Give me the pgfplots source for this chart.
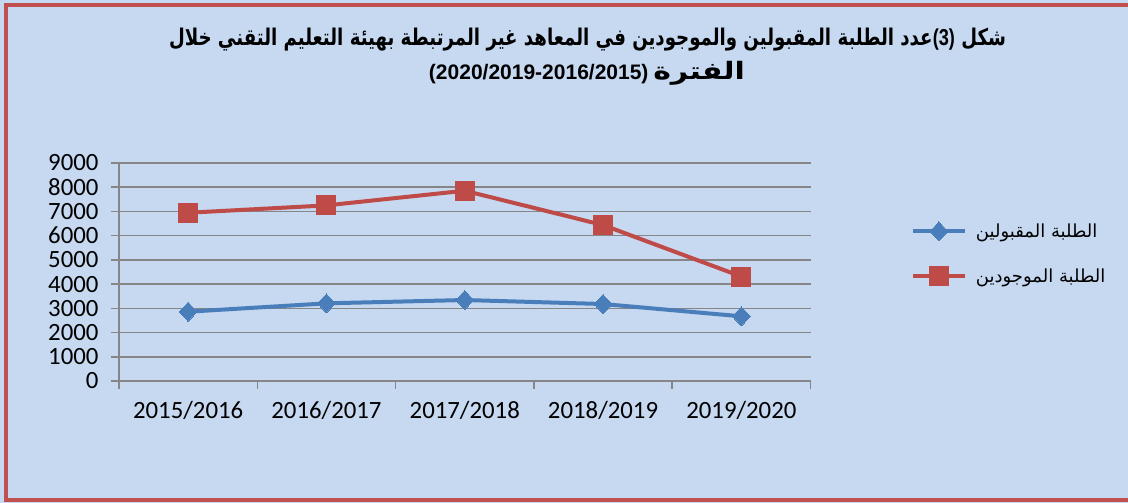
\documentclass[border=0pt]{standalone}
\usepackage{pgfplots}
\pgfplotsset{compat=1.18}
\usepackage{fontspec}
\usepackage{graphicx}
\setmainfont{Carlito}
\newfontfamily\arabicfont[Script=Arabic]{DejaVu Sans}
\newfontfamily\titlelat{Liberation Sans}
\TeXXeTstate=1
\definecolor{bg}{HTML}{C6D9F1}
\definecolor{bord}{HTML}{C0504D}
\definecolor{serA}{HTML}{4A7EBB}
\definecolor{serB}{HTML}{BE4B48}
\definecolor{gridc}{HTML}{868686}
\begin{document}
\begin{tikzpicture}[x=1pt,y=1pt]
\fill[bg] (0,0) rectangle (1128,503);
\useasboundingbox (0,0) rectangle (1128,503);
\draw[bord, line width=3.5pt] (1135,498) -- (6,498) -- (6,3) -- (1135,3);
\node[anchor=center] at (587.5,463) {\scalebox{0.79}[1]{\fontsize{23}{27}\selectfont\arabicfont\bfseries\beginR شكل \beginL{\titlelat\bfseries (3)}\endL{}عدد الطلبة المقبولين والموجودين في المعاهد غير المرتبطة بهيئة التعليم التقني خلال\endR}};
\node[anchor=center] at (587,430) {\fontsize{21}{25}\selectfont{\titlelat\bfseries (2020/2019-2016/2015)} \scalebox{1.25}[1]{\fontsize{24}{27}\selectfont\arabicfont\bfseries\beginR الفترة\endR}};
\begin{axis}[
  at={(119pt,122pt)}, anchor=south west,
  scale only axis, width=691.5pt, height=218pt,
  xmin=-0.5, xmax=4.5, ymin=0, ymax=9000,
  ytick={0,1000,...,9000},
  xtick={-0.5,0.5,1.5,2.5,3.5,4.5},
  x tick label as interval,
  xticklabels={2015/2016,2016/2017,2017/2018,2018/2019,2019/2020},
  axis x line*=bottom, axis y line*=left,
  axis line style={gridc, line width=1.5pt},
  ymajorgrids, major grid style={gridc, line width=1.5pt},
  tick style={gridc, line width=1.5pt},
  tick align=outside, major tick length=8pt,
  ticklabel style={font=\fontsize{24.8}{30}\selectfont, text=black},
  yticklabel style={xshift=-9pt},
  xticklabel style={yshift=-9pt},
  /pgf/number format/assume math mode=true,
  /pgf/number format/1000 sep={},
  scaled y ticks=false,
  legend style={at={(axis description cs:1.145,0.583)}, anchor=west, draw=none, fill=none,
     font=\fontsize{18}{22}\selectfont, row sep=26pt, inner sep=0pt,
     /tikz/every odd column/.append style={column sep=7pt}},
  legend cell align=left,
  legend image code/.code={\draw[mark repeat=2,mark phase=2,#1] plot coordinates {(0pt,0pt) (26pt,0pt) (52pt,0pt)};},
]
\addplot[serA, line width=4pt, mark=diamond*, mark size=9.5pt, mark options={fill=serA, draw=serA, line width=0pt, xscale=1.25}] coordinates {(0,2860)(1,3206)(2,3343)(3,3178)(4,2670)};
\addplot[serB, line width=4pt, mark=square*, mark size=9.5pt, mark options={fill=serB, draw=serB, line width=0pt}] coordinates {(0,6946)(1,7250)(2,7855)(3,6438)(4,4314)};
\legend{{\arabicfont\beginR الطلبة المقبولين\endR},{\arabicfont\beginR الطلبة الموجودين\endR}}
\end{axis}
\end{tikzpicture}
\end{document}
